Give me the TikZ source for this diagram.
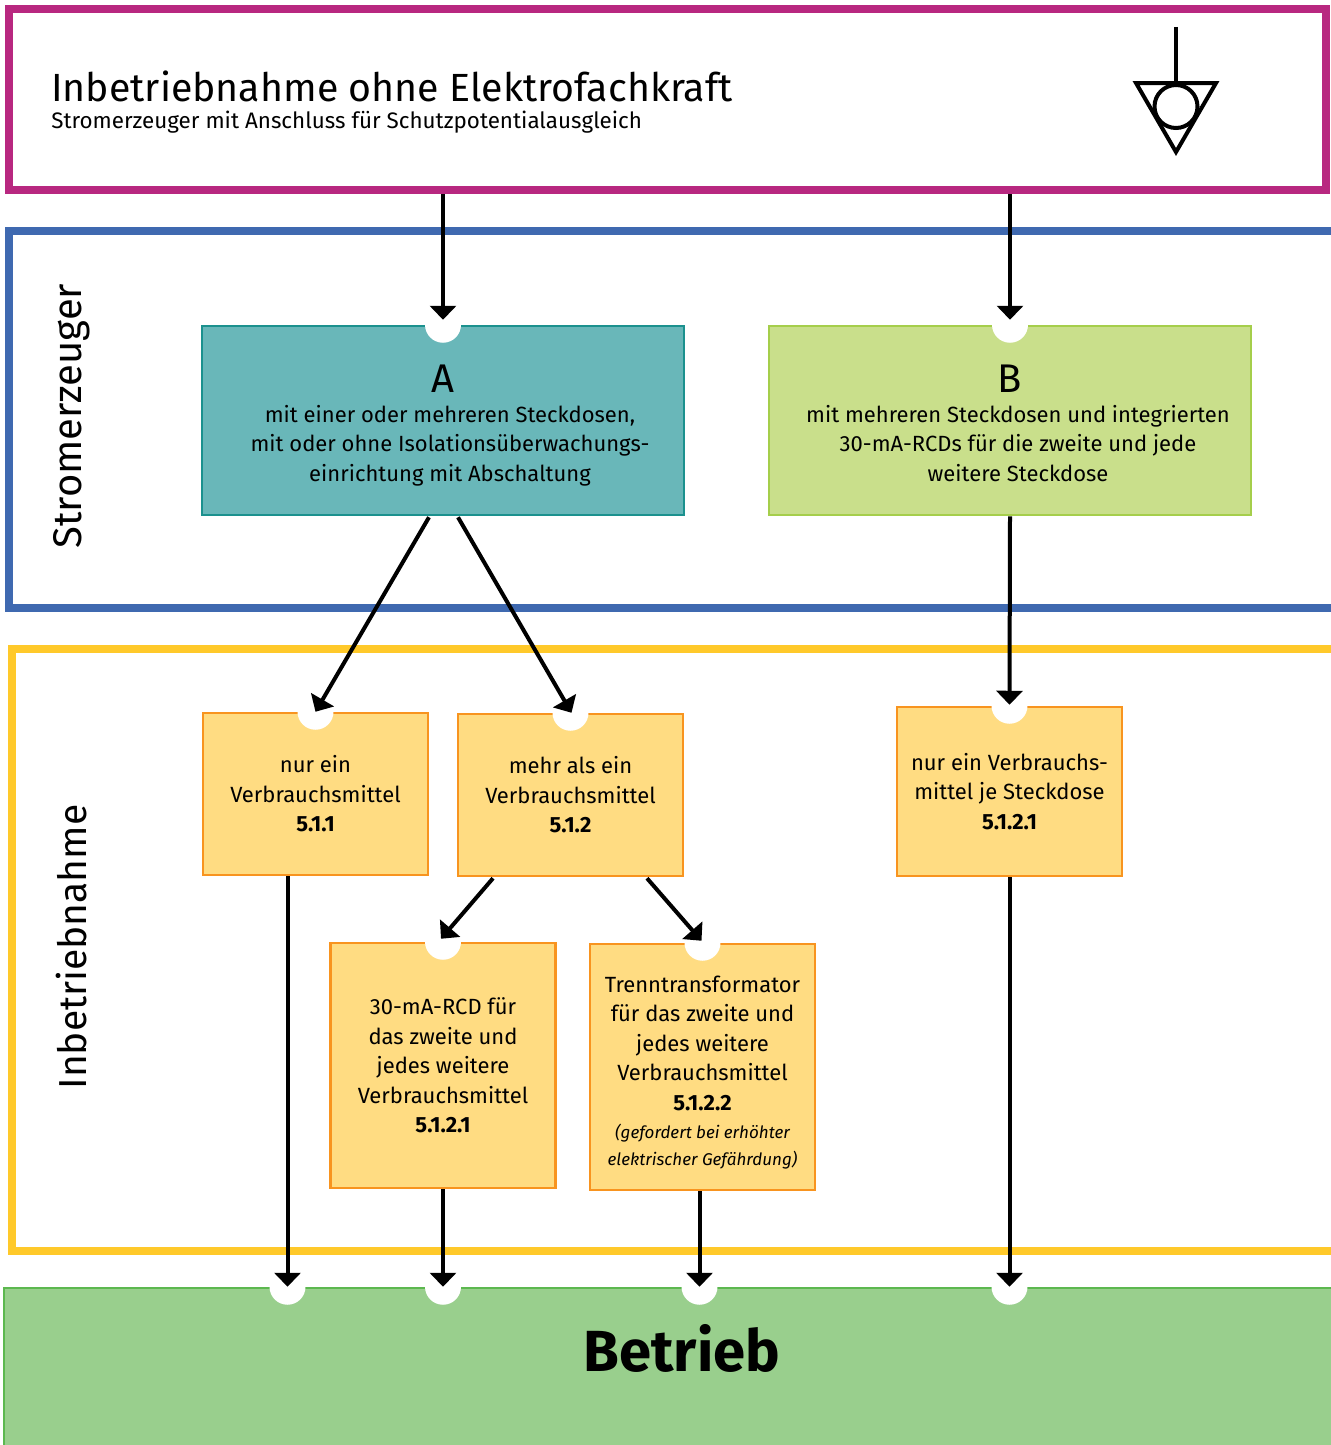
\documentclass[tikz,border=0pt]{standalone}
\usepackage{fontspec}
\setmainfont{Fira Sans}
\usetikzlibrary{arrows.meta,calc}
\newcommand{\boxfont}{\fontsize{22}{29.5}\selectfont}
\newcommand{\notefont}{\fontsize{17}{27}\selectfont\itshape}
\tikzset{every picture/.style={line width=0.75pt}}

\begin{document}
\begin{tikzpicture}[x=1pt,y=1pt,yscale=-1,xscale=1,
  frame/.style={line width=8},
  stage/.style={draw, line width=2.5, inner sep=0, align=center, font=\boxfont},
  gena/.style={stage, draw={rgb, 255:red, 27; green, 145; blue, 142}, fill={rgb, 255:red, 105; green, 183; blue, 185}, minimum width=482, minimum height=189},
  genb/.style={stage, draw={rgb, 255:red, 165; green, 206; blue, 75}, fill={rgb, 255:red, 201; green, 223; blue, 139}, minimum width=482, minimum height=189},
  usage/.style={stage, draw={rgb, 255:red, 248; green, 148; blue, 31}, fill={rgb, 255:red, 255; green, 220; blue, 130}, minimum width=225},
  arr/.style={line width=4, -{Triangle[width=26pt,length=14pt]}},
]
\useasboundingbox (0,0) rectangle (1330,1445);

%Shape: Rectangle (head)
\draw (667.5,99.5) node [frame, draw={rgb, 255:red, 184; green, 40; blue, 128}, inner sep=0, minimum width=1317, minimum height=181] (top) {};
%Shape: Frame (Stromerzeuger)
\draw [frame, draw={rgb, 255:red, 63; green, 105; blue, 176}] (1340,231) -- (9,231) -- (9,608) -- (1340,608) ;
%Shape: Frame (Inbetriebnahme)
\draw [frame, draw={rgb, 255:red, 255; green, 201; blue, 42}] (1340,649) -- (12,649) -- (12,1251) -- (1340,1251) ;
%Shape: Rectangle (Betrieb)
\draw (674.5,1374) node [draw={rgb, 255:red, 92; green, 184; blue, 79}, fill={rgb, 255:red, 153; green, 207; blue, 141}, line width=2.5, inner sep=0, minimum width=1341, minimum height=172] (run) {};

%Shape: Equipotential symbol
\draw [line width=4] (1176,27) -- (1176,83) ;
\draw [line width=4] (1136,83) -- (1216,83) -- (1176,152) -- cycle ;
\draw [line width=4] (1176,106.5) circle (21.5) ;

% Text Node
\draw (51,101) node [anchor=base west, inner sep=0, font=\fontsize{39.3}{41}\selectfont] (title) {Inbetriebnahme ohne Elektrofachkraft};
% Text Node
\draw (51,128) node [anchor=base west, inner sep=0, font=\fontsize{22.4}{24}\selectfont] (subtitle) {Stromerzeuger mit Anschluss für Schutzpotentialausgleich};
% Text Node
\draw (72,416) node [rotate=90, inner sep=0, font=\fontsize{40}{40}\selectfont] (lblgen) {Stromerzeuger};
% Text Node
\draw (72,947) node [rotate=90, inner sep=0, font=\fontsize{39}{40}\selectfont] (lblstart) {Inbetriebnahme};
% Text Node
\draw (682,1348) node [inner sep=0, font=\fontsize{58}{60}\selectfont\bfseries] (lblrun) {Betrieb};

%Shape: Rectangle (A)
\draw (443,420.5) node [gena] (A) {\rule{0pt}{38pt}{\fontsize{40}{29.5}\selectfont A}\\\hspace*{14pt}mit einer oder mehreren Steckdosen,\\\hspace*{14pt}mit oder ohne Isolationsüberwachungs-\\\hspace*{14pt}einrichtung mit Abschaltung};
%Shape: Rectangle (B)
\draw (1010,420.5) node [genb] (B) {\rule{0pt}{38pt}{\fontsize{40}{29.5}\selectfont B}\\\hspace*{16pt}mit mehreren Steckdosen und integrierten\\\hspace*{16pt}30-mA-RCDs für die zweite und jede\\\hspace*{16pt}weitere Steckdose\rule[-5pt]{0pt}{5pt}};
%Shape: Rectangle (5.1.1)
\draw (315.5,794) node [usage, minimum height=162] (n511) {nur ein\\Verbrauchsmittel\\\textbf{5.1.1}};
%Shape: Rectangle (5.1.2)
\draw (570.5,795) node [usage, minimum height=162] (n512) {mehr als ein\\Verbrauchsmittel\\\textbf{5.1.2}};
%Shape: Rectangle (5.1.2.1 right)
\draw (1009.5,791.5) node [usage, minimum height=169] (nsock) {nur ein Verbrauchs-\\mittel je Steckdose\\\textbf{5.1.2.1}};
%Shape: Rectangle (5.1.2.1 RCD)
\draw (443,1065.5) node [usage, minimum height=245] (nrcd) {30-mA-RCD für\\das zweite und\\jedes weitere\\Verbrauchsmittel\\\textbf{5.1.2.1}};
%Shape: Rectangle (5.1.2.2)
\draw (702.5,1067) node [usage, minimum height=246] (ntrafo) {\rule{0pt}{27pt}Trenntransformator\\für das zweite und\\jedes weitere\\Verbrauchsmittel\\\textbf{5.1.2.2}\\[-1.5pt]{\notefont (gefordert bei erhöhter}\\[-2.5pt]{\notefont elektrischer Gefährdung)}};

%Shape: Circle (notches)
\fill [white] (A.north) circle (18) ;
\fill [white] (B.north) circle (18) ;
\fill [white] (n511.north) circle (18) ;
\fill [white] (n512.north) circle (18) ;
\fill [white] (nsock.north) circle (18) ;
\fill [white] (nrcd.north) circle (18) ;
\fill [white] (ntrafo.north) circle (18) ;
\coordinate (d1) at ($(n511.south)+(-28,0)$) ;
\coordinate (d3) at ($(ntrafo.south)+(-3,0)$) ;
\fill [white] (d1 |- run.north) circle (18) ;
\fill [white] (nrcd.south |- run.north) circle (18) ;
\fill [white] (d3 |- run.north) circle (18) ;
\fill [white] (nsock.south |- run.north) circle (18) ;

%Straight Lines
\draw [arr] (top.south -| A.north) -- ($(A.north)+(0,-5)$) ;
\draw [arr] (top.south -| B.north) -- ($(B.north)+(0,-5)$) ;
%Straight Lines
\draw [arr] ($(A.south)+(-14,1)$) -- (n511.north) ;
\draw [arr] ($(A.south)+(15,1)$) -- ($(n512.north)+(1,0)$) ;
\draw [arr] (B.south) -- ($(nsock.north)+(0,-1)$) ;
%Straight Lines
\draw [arr] ($(n512.south)+(-77.5,1)$) -- ($(nrcd.north)+(-2,-3)$) ;
\draw [arr] ($(n512.south)+(76.5,1)$) -- ($(ntrafo.north)+(-1,-2)$) ;
%Straight Lines
\draw [arr] (d1) -- (d1 |- run.north) ;
\draw [arr] (nrcd.south) -- (nrcd.south |- run.north) ;
\draw [arr] (d3) -- (d3 |- run.north) ;
\draw [arr] (nsock.south) -- (nsock.south |- run.north) ;

\end{tikzpicture}
\end{document}
